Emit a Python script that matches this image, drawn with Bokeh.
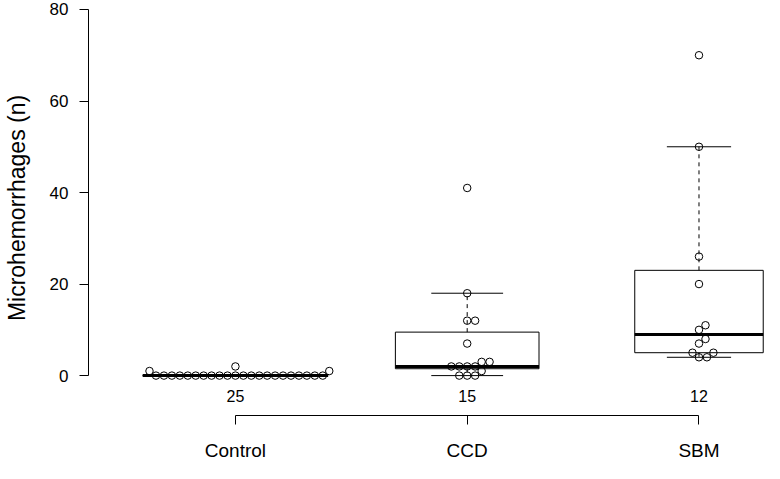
import numpy as np
from bokeh.plotting import figure
from bokeh.models import FixedTicker, Range1d
from bokeh.core.properties import value
from bokeh.embed import file_html
from bokeh.resources import INLINE

# ---------------- data ----------------
categories = ["Control", "CCD", "SBM"]
control = [0, 0, 0, 0, 0, 0, 0, 0, 0, 0, 0, 0, 0, 0, 0, 0, 0, 0, 0, 0, 0, 0, 1, 1, 2]
ccd = [0, 0, 0, 1, 2, 2, 2, 2, 3, 3, 7, 12, 12, 18, 41]
sbm = [4, 4, 5, 5, 7, 8, 10, 11, 20, 26, 50, 70]
groups = [control, ccd, sbm]
y_ticks = [0, 20, 40, 60, 80]
y_label = "Microhemorrhages (n)"

FONT = "Liberation Sans"

# ---------------- layout (fits 780x479 window with 8px margin) ----------------
W, H = 764, 463
LEFT, BOTTOM, TOP = 83, 47, 0
frame_w = W - LEFT
frame_h = H - BOTTOM - TOP
px_per_x = 233.5
x_start = 1 - (231 - LEFT) / px_per_x
x_end = x_start + frame_w / px_per_x
y_start, y_end = -8.719, 81.962
px_per_y = frame_h / (y_end - y_start)

positions = list(range(1, len(categories) + 1))


def fivenum(v):
    x = np.sort(np.asarray(v, float))
    n = len(x)
    n4 = np.floor((n + 3) / 2) / 2
    d = np.array([1, n4, (n + 1) / 2, n + 1 - n4, n]) - 1
    return 0.5 * (x[np.floor(d).astype(int)] + x[np.ceil(d).astype(int)])


def swarm(vals, d=8.0):
    vals = np.asarray(vals, float)
    order = np.argsort(vals, kind="stable")
    xs = np.zeros(len(vals))
    placed = []
    for i in order:
        yi = vals[i] * px_per_y
        cands = [0.0]
        for xj, yj in placed:
            dy = abs(yi - yj)
            if dy < d:
                off = np.sqrt(d * d - dy * dy)
                cands += [xj + off, xj - off]
        ok = [c for c in cands
              if all((c - xj) ** 2 + (yi - yj) ** 2 >= d * d - 1e-6 for xj, yj in placed)]
        best = min(ok, key=lambda c: (round(abs(c), 6), -c))
        xs[i] = best
        placed.append((best, yi))
    return xs


p = figure(width=W, height=H, output_backend="svg", toolbar_location=None,
           x_range=Range1d(x_start, x_end), y_range=Range1d(y_start, y_end),
           min_border_left=LEFT, min_border_right=0, min_border_top=TOP,
           min_border_bottom=BOTTOM, background_fill_color="white",
           border_fill_color="white")
p.outline_line_color = None
p.grid.visible = False

max_n = max(len(g) for g in groups)
for pos, vals in zip(positions, groups):
    q0, q1, med, q3, q4 = fivenum(vals)
    iqr = q3 - q1
    arr = np.asarray(vals, float)
    upper = arr[arr <= q3 + 1.5 * iqr].max()
    lower = arr[arr >= q1 - 1.5 * iqr].min()
    hw = 0.4 * np.sqrt(len(vals) / max_n)
    # whiskers
    p.segment(x0=[pos, pos], y0=[q3, q1], x1=[pos, pos], y1=[upper, lower],
              line_color="black", line_width=1, line_dash="4 4")
    p.segment(x0=[pos - hw / 2] * 2, y0=[upper, lower], x1=[pos + hw / 2] * 2,
              y1=[upper, lower], line_color="black", line_width=1)
    # box
    p.quad(left=[pos - hw], right=[pos + hw], bottom=[q1], top=[q3],
           fill_color=None, line_color="black", line_width=1)
    p.segment(x0=[pos - hw], y0=[med], x1=[pos + hw], y1=[med],
              line_color="black", line_width=3, line_cap="butt")
    # beeswarm points
    offs = swarm(vals)
    p.scatter(x=pos + offs / px_per_x, y=vals, marker="circle", size=7.5,
              fill_color=None, line_color="black", line_width=1)

# group sizes under the boxes
p.text(x=positions, y=[0] * len(positions), text=[str(len(g)) for g in groups],
       y_offset=20, text_align="center", text_baseline="middle",
       text_font=value(FONT), text_font_size="16px", text_color="black")

# y axis
ya = p.yaxis[0]
ya.ticker = FixedTicker(ticks=y_ticks)
ya.bounds = (y_ticks[0], y_ticks[-1])
ya.axis_label = y_label
ya.axis_label_text_font = FONT
ya.axis_label_text_font_size = "23px"
ya.axis_label_text_font_style = "normal"
ya.axis_label_text_color = "black"
ya.axis_label_standoff = 17
ya.major_label_text_font = FONT
ya.major_label_text_font_size = "17px"
ya.major_label_text_color = "black"
ya.major_label_standoff = 11
ya.major_tick_out = 9
ya.major_tick_in = 0
ya.minor_tick_out = 0
ya.minor_tick_in = 0
ya.axis_line_color = "black"
ya.major_tick_line_color = "black"

# x axis
xa = p.xaxis[0]
xa.ticker = FixedTicker(ticks=positions)
xa.bounds = (positions[0], positions[-1])
xa.major_label_overrides = {pos: c for pos, c in zip(positions, categories)}
xa.major_label_text_font = FONT
xa.major_label_text_font_size = "19px"
xa.major_label_text_color = "black"
xa.major_label_standoff = 15
xa.major_tick_out = 9
xa.major_tick_in = 0
xa.minor_tick_out = 0
xa.minor_tick_in = 0
xa.axis_line_color = "black"
xa.major_tick_line_color = "black"

open("out.html", "w").write(file_html(p, INLINE))
